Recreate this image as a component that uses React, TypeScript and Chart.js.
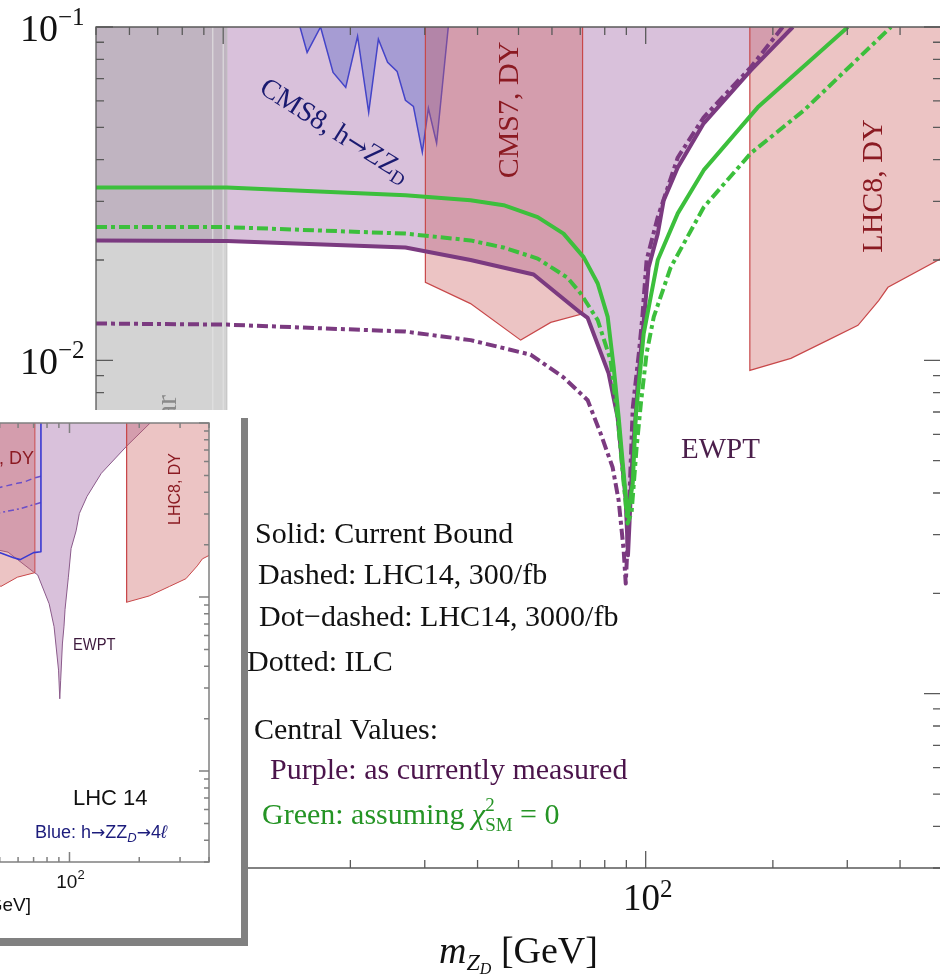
import React, { useEffect, useRef } from "react";
import { Chart, registerables } from "chart.js";

Chart.register(...registerables);

// ---------- axes ----------
const X_MIN = 5;
const X_MAX = 500;
const INSET_X_MAX = 400;
const Y_MIN = 3e-4;
const Y_MAX = 0.1;

// ---------- EWPT bounds (m_ZD in GeV, epsilon) ----------
// Purple: central values as currently measured, current bound (solid)
const purpleCurrentMass = [5, 10.2, 27, 38.5, 54.3, 70.1, 72.9, 81.7, 85.8, 89.7, 90.8, 91.6, 93.2, 94.7, 95.7, 98.9, 101.6, 106.8, 110.3, 119.1, 137.2, 177.3, 223];
const purpleCurrentEps = [0.0229, 0.0228, 0.0218, 0.02, 0.0181, 0.0139, 0.0134, 0.00914, 0.00675, 0.0038, 0.0026, 0.0033, 0.00537, 0.0068, 0.0085, 0.013, 0.019, 0.024, 0.0302, 0.0379, 0.0514, 0.0741, 0.1];

// Purple: LHC14, 3000/fb (dot-dashed)
const purple3000Mass = [5, 10.2, 27, 38.5, 53.4, 63.9, 72.9, 78.2, 83.5, 86.3, 88.7, 89.7, 90.6, 91.8, 93.2, 96.5, 98.2, 100.5, 106.8, 119.1, 137.2, 177.3, 211];
const purple3000Eps = [0.0129, 0.0128, 0.0122, 0.0115, 0.0104, 0.00889, 0.00759, 0.00604, 0.00478, 0.0038, 0.00269, 0.00214, 0.00282, 0.0043, 0.0072, 0.0107, 0.0135, 0.02, 0.0269, 0.0406, 0.0536, 0.0757, 0.1];

// Green: assuming chi^2_SM = 0, current bound (solid)
const greenCurrentMass = [5, 10.2, 27, 38.5, 46.1, 55.5, 63.9, 71.3, 77, 81.3, 84, 86.3, 88.4, 90.6, 93.2, 94.7, 98.9, 106.8, 119.1, 137.2, 184.2, 301];
const greenCurrentEps = [0.033, 0.033, 0.0313, 0.0302, 0.0292, 0.0269, 0.024, 0.0204, 0.017, 0.0135, 0.00953, 0.00675, 0.0048, 0.0034, 0.00428, 0.00675, 0.012, 0.02, 0.0276, 0.0372, 0.0574, 0.1];

// Green: LHC14, 3000/fb (dot-dashed)
const green3000Mass = [5, 10.2, 27, 38.5, 46.1, 55.5, 65.3, 70.1, 77, 82.6, 85.8, 88.7, 90.6, 92.6, 95.2, 97.5, 100.5, 104.5, 114.6, 137.2, 177.3, 236.8, 380.7];
const green3000Eps = [0.0251, 0.0251, 0.024, 0.0229, 0.0218, 0.0202, 0.0177, 0.0159, 0.0132, 0.01, 0.00675, 0.00428, 0.00324, 0.0035, 0.0055, 0.0075, 0.0105, 0.0135, 0.019, 0.0288, 0.0418, 0.0562, 0.1];

// ---------- excluded regions ----------
const cms7Mass = [30.1, 30.1, 38.5, 50.6, 59.6, 70.9, 70.9];
const cms7Eps = [0.1, 0.01714, 0.0148, 0.0115, 0.013, 0.0138, 0.1];

const lhc8Mass = [176.4, 176.4, 220.6, 270, 318, 356, 374.5, 500];
const lhc8Eps = [0.1, 0.00933, 0.01014, 0.0115, 0.01274, 0.0151, 0.01656, 0.0202];

const cms8Mass = [15.2, 15.8, 17.0, 18.2, 19.5, 20.8, 22.1, 23.3, 24.5, 25.8, 27.0, 28.2, 29.6, 30.6, 32.0, 34.1];
const cms8Eps = [0.1, 0.0839, 0.1, 0.0731, 0.0659, 0.0938, 0.0555, 0.0919, 0.0784, 0.0736, 0.0603, 0.0578, 0.0421, 0.057, 0.0448, 0.1];

const babarMass = [5, 10.2];
const babarEdges = [9.45, 10.0, 10.2];

// ---------- LHC14 h -> Z Z_D -> 4l reach (inset) ----------
const blueSolidMass = [75.3, 75.3, 70.0, 61.3, 57.4, 49.5];
const blueSolidEps = [0.1, 0.0182, 0.018, 0.0164, 0.0168, 0.0181];
const blueDashedMass = [75.3, 69.8, 63.2, 59.5, 49.5];
const blueDashedEps = [0.0494, 0.0481, 0.0456, 0.045, 0.0425];
const blueDotDashMass = [75.3, 61.3, 49.5];
const blueDotDashEps = [0.0349, 0.0322, 0.0304];

// ---------- styling ----------
const SERIF = '"Liberation Serif", "Times New Roman", serif';
const SANS = '"Liberation Sans", Arial, sans-serif';
const ARROW_SERIF = '"DejaVu Serif", serif';
const ARROW_SANS = '"DejaVu Sans", sans-serif';

const PURPLE = "#7b3a80";
const GREEN = "#3cbf3c";
const EWPT_FILL = "rgba(160,100,165,0.4)";
const DY_FILL = "rgba(204,96,95,0.37)";
const DY_EDGE = "#c8484a";
const CMS8_FILL = "rgba(90,100,200,0.4)";
const CMS8_EDGE = "#4444c8";
const BABAR_FILL = "rgba(167,167,167,0.5)";
const DOT_DASH = [11, 4, 4, 4];

// main chart frame (page pixels)
const MAIN_W = 960;
const MAIN_H = 974;
const MAIN_PAD = { left: 96, right: 19, top: 27, bottom: 106 };

// inset box (page pixels)
const INSET_LEFT = -300;
const INSET_TOP = 410;
const INSET_W = 541;
const INSET_H = 528;
const INSET_PAD = { left: 68, right: 32, top: 13, bottom: 76 };

const pts = (xs: number[], ys: number[]) => xs.map((x, i) => ({ x, y: ys[i] }));

type Run = { t: string; size: number; dy?: number; italic?: boolean; stack?: boolean; family?: string };

function drawRuns(
  ctx: CanvasRenderingContext2D,
  runs: Run[],
  x: number,
  y: number,
  o: { family: string; color: string; align?: "left" | "center" | "right"; angle?: number; sx?: number }
) {
  ctx.save();
  ctx.translate(x, y);
  if (o.angle) ctx.rotate(o.angle);
  if (o.sx) ctx.scale(o.sx, 1);
  ctx.fillStyle = o.color;
  ctx.textBaseline = "alphabetic";
  ctx.textAlign = "left";
  const fontOf = (r: Run) => `${r.italic ? "italic " : ""}${r.size}px ${r.family || o.family}`;
  const placed: { r: Run; start: number }[] = [];
  let cursor = 0;
  let lastStart = 0;
  let lastW = 0;
  for (const r of runs) {
    ctx.font = fontOf(r);
    const w = ctx.measureText(r.t).width;
    if (r.stack) {
      placed.push({ r, start: lastStart });
      cursor = Math.max(lastStart + lastW, lastStart + w);
    } else {
      placed.push({ r, start: cursor });
      lastStart = cursor;
      lastW = w;
      cursor += w;
    }
  }
  const total = cursor;
  const off = o.align === "center" ? -total / 2 : o.align === "right" ? -total : 0;
  for (const p of placed) {
    ctx.font = fontOf(p.r);
    ctx.fillText(p.r.t, off + p.start, p.r.dy || 0);
  }
  ctx.restore();
}

function framePlugin(cfg: { color: string; width: number; major: number; minor: number }) {
  return {
    id: "frameTicks",
    afterDatasetsDraw(chart: any) {
      const { ctx, chartArea: a } = chart;
      const xs = chart.scales.x;
      const ys = chart.scales.y;
      ctx.save();
      ctx.strokeStyle = cfg.color;
      ctx.lineWidth = cfg.width;
      ctx.beginPath();
      ctx.rect(a.left, a.top, a.right - a.left, a.bottom - a.top);
      ctx.stroke();
      ctx.beginPath();
      for (let e = -5; e <= 3; e++) {
        for (let k = 1; k <= 9; k++) {
          const v = k * Math.pow(10, e);
          const len = k === 1 ? cfg.major : cfg.minor;
          if (v >= xs.min * 0.999 && v <= xs.max * 1.001) {
            const px = xs.getPixelForValue(v);
            ctx.moveTo(px, a.top);
            ctx.lineTo(px, a.top + len);
            ctx.moveTo(px, a.bottom);
            ctx.lineTo(px, a.bottom - len);
          }
          if (v >= ys.min * 0.999 && v <= ys.max * 1.001) {
            const py = ys.getPixelForValue(v);
            ctx.moveTo(a.left, py);
            ctx.lineTo(a.left + len, py);
            ctx.moveTo(a.right, py);
            ctx.lineTo(a.right - len, py);
          }
        }
      }
      ctx.stroke();
      ctx.restore();
    },
  };
}

const lineSet = (label: string, data: any[], color: string, width: number, dash: number[], order: number) => ({
  label,
  data,
  borderColor: color,
  borderWidth: width,
  borderDash: dash,
  borderCapStyle: "butt",
  borderJoinStyle: "round",
  pointRadius: 0,
  fill: false,
  tension: 0,
  order,
});

const areaSet = (label: string, data: any[], fillColor: string, edge: string, width: number, order: number, fill: any = "end") => ({
  label,
  data,
  backgroundColor: fillColor,
  borderColor: edge,
  borderWidth: width,
  pointRadius: 0,
  fill,
  tension: 0,
  order,
});

function mainConfig(): any {
  const edges = babarEdges.map((m, i) =>
    lineSet(`BaBar edge ${i}`, [{ x: m, y: Y_MIN }, { x: m, y: Y_MAX }], i === 2 ? "#bdbdbd" : "#e4e4e4", 1, [], 8)
  );
  const labels = {
    id: "mainLabels",
    afterDraw(chart: any) {
      const ctx = chart.ctx as CanvasRenderingContext2D;
      const a = chart.chartArea;
      const xs = chart.scales.x;
      const ys = chart.scales.y;
      // y tick labels
      for (const [v, exp] of [[0.1, "−1"], [0.01, "−2"]] as [number, string][]) {
        const py = ys.getPixelForValue(v);
        drawRuns(ctx, [{ t: "10", size: 38 }, { t: exp, size: 25, dy: -16 }], 20, py + 13.5, { family: SERIF, color: "#111" });
      }
      // x tick label
      drawRuns(ctx, [{ t: "10", size: 37 }, { t: "2", size: 25, dy: -13 }], xs.getPixelForValue(100) + 2, 910, {
        family: SERIF,
        color: "#111",
        align: "center",
      });
      // axis title
      drawRuns(
        ctx,
        [
          { t: "m", size: 38, italic: true },
          { t: "Z", size: 24, italic: true, dy: 7 },
          { t: "D", size: 16, italic: true, dy: 11 },
          { t: " [GeV]", size: 38 },
        ],
        (a.left + a.right) / 2,
        963,
        { family: SERIF, color: "#111", align: "center" }
      );
      // region labels
      drawRuns(ctx, [{ t: "BaBar", size: 30 }], 176, 395, { family: SERIF, color: "#8a8a8a", align: "right", angle: -Math.PI / 2 });
      drawRuns(ctx, [{ t: "CMS7, DY", size: 30 }], 518, 110, { family: SERIF, color: "#8b1a22", align: "center", angle: -Math.PI / 2 });
      drawRuns(ctx, [{ t: "LHC8, DY", size: 30 }], 882, 186, { family: SERIF, color: "#8b1a22", align: "center", angle: -Math.PI / 2 });
      drawRuns(
        ctx,
        [
          { t: "CMS8, h", size: 28 },
          { t: "→", size: 26, family: ARROW_SERIF },
          { t: "ZZ", size: 28 },
          { t: "D", size: 19, dy: 5 },
        ],
        258,
        92,
        { family: SERIF, color: "#1a1a70", angle: 0.56 }
      );
      drawRuns(ctx, [{ t: "EWPT", size: 29 }], 681, 458, { family: SERIF, color: "#4b1f4b" });
      // legend block
      const black = "#111";
      drawRuns(ctx, [{ t: "Solid: Current Bound", size: 30 }], 255, 543, { family: SERIF, color: black });
      drawRuns(ctx, [{ t: "Dashed: LHC14, 300/fb", size: 30 }], 258, 584, { family: SERIF, color: black });
      drawRuns(ctx, [{ t: "Dot−dashed: LHC14, 3000/fb", size: 30 }], 259, 626, { family: SERIF, color: black });
      drawRuns(ctx, [{ t: "Dotted: ILC", size: 30 }], 247, 671, { family: SERIF, color: black });
      drawRuns(ctx, [{ t: "Central Values:", size: 30 }], 254, 739, { family: SERIF, color: black });
      drawRuns(ctx, [{ t: "Purple: as currently measured", size: 30 }], 270, 779, { family: SERIF, color: "#4b144b" });
      drawRuns(
        ctx,
        [
          { t: "Green: assuming ", size: 30 },
          { t: "χ", size: 30, italic: true },
          { t: "2", size: 19, dy: -13 },
          { t: "SM", size: 19, dy: 7, stack: true },
          { t: " = 0", size: 30 },
        ],
        262,
        824,
        { family: SERIF, color: "#259425" }
      );
    },
  };
  return {
    type: "line",
    data: {
      datasets: [
        lineSet("Green current", pts(greenCurrentMass, greenCurrentEps), GREEN, 4, [], 1),
        lineSet("Green 3000/fb", pts(green3000Mass, green3000Eps), GREEN, 4, DOT_DASH, 2),
        lineSet("Purple current", pts(purpleCurrentMass, purpleCurrentEps), PURPLE, 4, [], 3),
        lineSet("Purple 3000/fb", pts(purple3000Mass, purple3000Eps), PURPLE, 4, DOT_DASH, 4),
        areaSet("LHC8, DY", pts(lhc8Mass, lhc8Eps), DY_FILL, DY_EDGE, 1.2, 5),
        areaSet("CMS7, DY", pts(cms7Mass, cms7Eps), DY_FILL, DY_EDGE, 1.2, 6),
        areaSet("CMS8, h→ZZD", pts(cms8Mass, cms8Eps), CMS8_FILL, CMS8_EDGE, 1.5, 7),
        ...edges,
        areaSet("BaBar", babarMass.map((x) => ({ x, y: Y_MIN })), BABAR_FILL, "rgba(0,0,0,0)", 1, 9),
        areaSet("EWPT", pts(purpleCurrentMass, purpleCurrentEps), EWPT_FILL, "rgba(0,0,0,0)", 1, 10),
      ],
    },
    options: {
      responsive: false,
      maintainAspectRatio: false,
      animation: false,
      devicePixelRatio: 1,
      events: [],
      layout: { padding: MAIN_PAD },
      scales: {
        x: { type: "logarithmic", min: X_MIN, max: X_MAX, display: false },
        y: { type: "logarithmic", min: Y_MIN, max: Y_MAX, display: false },
      },
      plugins: { legend: { display: false }, tooltip: { enabled: false } },
    },
    plugins: [framePlugin({ color: "#5a5a5a", width: 1.3, major: 17, minor: 8 }), labels],
  };
}

function insetConfig(): any {
  const ox = INSET_LEFT;
  const oy = INSET_TOP;
  const labels = {
    id: "insetLabels",
    afterDraw(chart: any) {
      const ctx = chart.ctx as CanvasRenderingContext2D;
      const a = chart.chartArea;
      const xs = chart.scales.x;
      drawRuns(ctx, [{ t: "CMS7, DY", size: 18 }], 34 - ox, 464 - oy, { family: SANS, color: "#8b1a22", align: "right" });
      drawRuns(ctx, [{ t: "LHC8, DY", size: 16 }], 180 - ox, 489 - oy, { family: SANS, color: "#8b1a22", align: "center", angle: -Math.PI / 2 });
      drawRuns(ctx, [{ t: "EWPT", size: 16 }], 73 - ox, 650 - oy, { family: SANS, color: "#3d1a3d", sx: 0.92 });
      drawRuns(ctx, [{ t: "LHC 14", size: 22 }], 73 - ox, 805 - oy, { family: SANS, color: "#111" });
      drawRuns(
        ctx,
        [
          { t: "Blue: h", size: 18 },
          { t: "→", size: 17, family: ARROW_SANS },
          { t: "ZZ", size: 18 },
          { t: "D", size: 13, italic: true, dy: 4 },
          { t: "→", size: 17, family: ARROW_SANS },
          { t: "4", size: 18 },
          { t: "ℓ", size: 18, italic: true },
        ],
        35 - ox,
        838 - oy,
        { family: SANS, color: "#1c1c7c" }
      );
      drawRuns(ctx, [{ t: "10", size: 19 }, { t: "2", size: 13, dy: -9 }], xs.getPixelForValue(100) + 1, 888 - oy, {
        family: SANS,
        color: "#111",
        align: "center",
      });
      drawRuns(
        ctx,
        [
          { t: "m", size: 19, italic: true },
          { t: "Z", size: 13, italic: true, dy: 4 },
          { t: "D", size: 10, italic: true, dy: 7 },
          { t: " [GeV]", size: 19 },
        ],
        (a.left + a.right) / 2,
        911 - oy,
        { family: SANS, color: "#111", align: "center" }
      );
    },
  };
  return {
    type: "line",
    data: {
      datasets: [
        lineSet("Blue current", pts(blueSolidMass, blueSolidEps), "#3a3ad2", 1.6, [], 1),
        lineSet("Blue 300/fb", pts(blueDashedMass, blueDashedEps), "#6a4fc8", 1.5, [6, 4], 2),
        lineSet("Blue 3000/fb", pts(blueDotDashMass, blueDotDashEps), "#6a4fc8", 1.5, [6, 3, 2, 3], 3),
        areaSet("LHC8, DY", pts(lhc8Mass, lhc8Eps), DY_FILL, DY_EDGE, 1, 4),
        areaSet("CMS7, DY", pts(cms7Mass, cms7Eps), DY_FILL, DY_EDGE, 1, 5),
        areaSet("EWPT", pts(purpleCurrentMass, purpleCurrentEps), EWPT_FILL, "#8a5a8a", 1, 6),
      ],
    },
    options: {
      responsive: false,
      maintainAspectRatio: false,
      animation: false,
      devicePixelRatio: 1,
      events: [],
      layout: { padding: INSET_PAD },
      scales: {
        x: { type: "logarithmic", min: X_MIN, max: INSET_X_MAX, display: false },
        y: { type: "logarithmic", min: Y_MIN, max: Y_MAX, display: false },
      },
      plugins: { legend: { display: false }, tooltip: { enabled: false } },
    },
    plugins: [framePlugin({ color: "#808080", width: 1.5, major: 10, minor: 5 }), labels],
  };
}

export default function App() {
  const mainRef = useRef<HTMLCanvasElement>(null);
  const insetRef = useRef<HTMLCanvasElement>(null);

  useEffect(() => {
    const main = new Chart(mainRef.current as HTMLCanvasElement, mainConfig());
    const inset = new Chart(insetRef.current as HTMLCanvasElement, insetConfig());
    return () => {
      main.destroy();
      inset.destroy();
    };
  }, []);

  return (
    <div style={{ position: "absolute", left: 0, top: 0, width: 940, height: 974, overflow: "hidden", background: "#fff" }}>
      <canvas
        ref={mainRef}
        width={MAIN_W}
        height={MAIN_H}
        style={{ position: "absolute", left: 0, top: 0, width: MAIN_W, height: MAIN_H }}
      />
      <div
        style={{
          position: "absolute",
          left: INSET_LEFT,
          top: INSET_TOP,
          width: INSET_W,
          height: INSET_H,
          background: "#fff",
          boxShadow: "7px 8px 0 #808080",
        }}
      >
        <canvas ref={insetRef} width={INSET_W} height={INSET_H} style={{ display: "block", width: INSET_W, height: INSET_H }} />
      </div>
    </div>
  );
}
